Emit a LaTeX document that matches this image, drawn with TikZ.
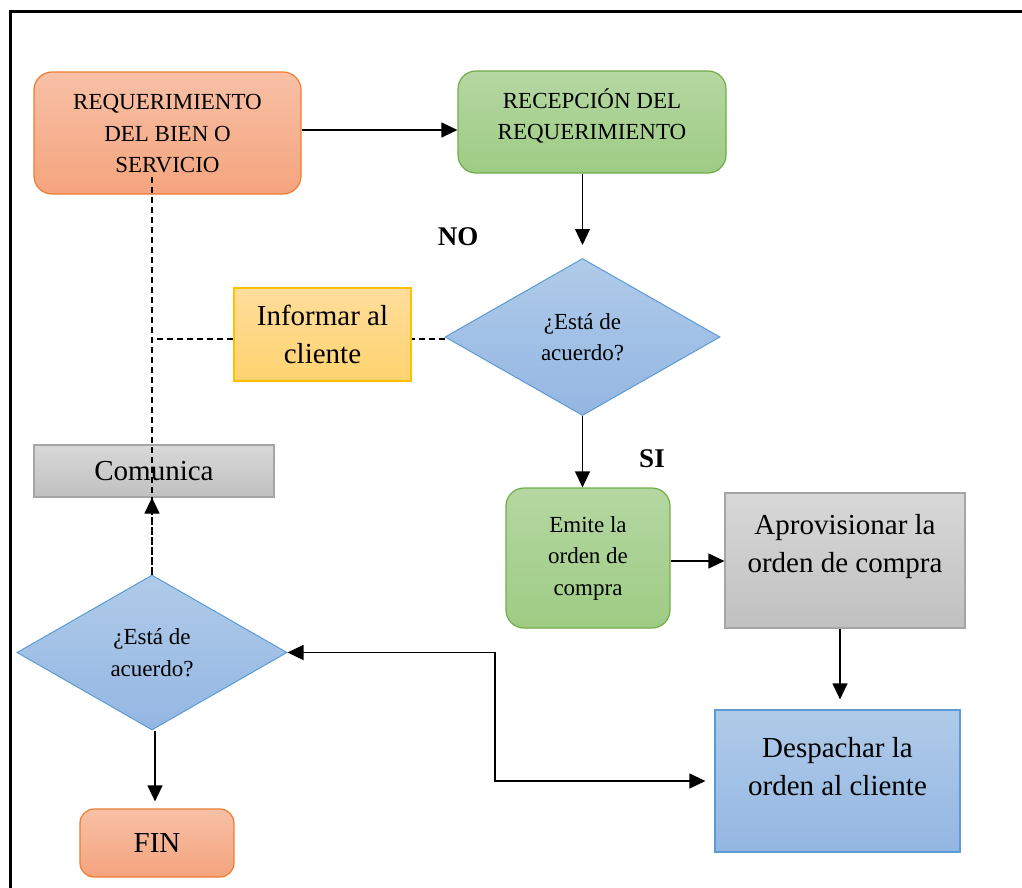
\documentclass[tikz,border=0pt]{standalone}
\usepackage{fontspec}
\setmainfont{Liberation Serif}
\usetikzlibrary{shapes.geometric,arrows.meta,calc}
\definecolor{orT}{HTML}{F8C0A6}\definecolor{orB}{HTML}{F4A47D}\definecolor{orD}{HTML}{ED7D31}
\definecolor{grT}{HTML}{B5D7A2}\definecolor{grB}{HTML}{9ECC84}\definecolor{grD}{HTML}{70AD47}
\definecolor{blT}{HTML}{B0CBE9}\definecolor{blB}{HTML}{93B6E2}\definecolor{blD}{HTML}{5B9BD5}
\definecolor{gyT}{HTML}{D8D8D8}\definecolor{gyB}{HTML}{C0C0C0}\definecolor{gyD}{HTML}{A5A5A5}
\definecolor{ywT}{HTML}{FFDD9C}\definecolor{ywB}{HTML}{FFD36F}\definecolor{ywD}{HTML}{FFC000}
\tikzset{
  box/.style={rectangle,inner sep=0pt,align=center,line width=1.2pt},
  orbox/.style={box,rounded corners=18pt,draw=orD,top color=orT,bottom color=orB},
  grbox/.style={box,rounded corners=18pt,draw=grD,top color=grT,bottom color=grB},
  blbox/.style={box,draw=blD,top color=blT,bottom color=blB},
  gybox/.style={box,draw=gyD,top color=gyT,bottom color=gyB},
  ywbox/.style={box,draw=ywD,top color=ywT,bottom color=ywB},
  dia/.style={diamond,inner sep=0pt,align=center,line width=1pt,draw=blD,top color=blT,bottom color=blB},
  small/.style={font=\fontsize{23}{31.5}\selectfont},
  big/.style={font=\fontsize{29}{38}\selectfont},
  lbl/.style={font=\fontsize{27}{30}\selectfont\bfseries},
  tip/.tip={Triangle[length=16pt,width=15pt]},
  arr/.style={line width=1.2pt,-tip},
  dsh/.style={line width=1.2pt,dash pattern=on 6pt off 4pt},
}
\begin{document}
\begin{tikzpicture}[x=1pt,y=-1pt]
\useasboundingbox (0,0) rectangle (1022,888);
\draw[line width=3pt] (10,888) -- (10,12) -- (1024,12);

\node[orbox,small,minimum width=267pt,minimum height=122pt] (req) at (167.5,133) {};
\node[small,align=center] (reqt) at (167.5,134) {REQUERIMIENTO\\DEL BIEN O\\SERVICIO};
\node[grbox,small,minimum width=268pt,minimum height=102pt] (recep) at (592,122) {};
\node[small,align=center] (recept) at (592,116) {RECEPCIÓN DEL\\REQUERIMIENTO};
\node[dia,small,minimum width=275pt,minimum height=157pt] (d1) at (582.5,337) {¿Está de\\acuerdo?};
\node[lbl] (no) at (458,237) {NO};
\node[ywbox,big,minimum width=177pt,minimum height=93pt] (inf) at (322.5,334.5) {Informar al\\cliente};
\node[lbl] (si) at (652,459) {SI};
\node[grbox,small,minimum width=164pt,minimum height=140pt] (emite) at (588,558) {Emite la\\orden de\\compra};
\node[gybox,big,minimum width=240pt,minimum height=135pt] (aprov) at (845,560.5) {};
\node[big,align=center] (aprovt) at (845,547) {Aprovisionar la\\orden de compra};
\node[blbox,big,minimum width=245pt,minimum height=142pt] (desp) at (837.5,781) {};
\node[big,align=center] (despt) at (837.5,767) {Despachar la\\orden al cliente};
\node[gybox,big,minimum width=240pt,minimum height=52pt] (com) at (154,471) {Comunica};
\node[dia,small,minimum width=270pt,minimum height=155pt] (d2) at (152,652.5) {¿Está de\\acuerdo?};
\node[orbox,big,rounded corners=14pt,minimum width=154pt,minimum height=68pt] (fin) at (157,843) {FIN};

\coordinate (rq) at (152,177);
\coordinate (jn) at (152,339);
\coordinate (bend) at (495,652.5);

\draw[arr] ($(req.east)+(0,-3)$) -- ($(req.east -| recep.west)+(0,-3)$);
\draw[arr,shorten >=13pt] (recep.south -| d1.north) -- (d1.north);
\draw[arr] (d1.south) -- (d1.south |- emite.north);
\draw[arr] ($(emite.east)+(0,3)$) -- ($(emite.east -| aprov.west)+(0,3)$);
\draw[arr,shorten >=10pt] (aprov.south -| 840,0) -- (desp.north -| 840,0);
\draw[line width=1.2pt,tip-tip,shorten >=9pt] (d2.east) -- (bend) |- (desp.west);
\draw[arr,shorten >=7pt] (d2.south -| 155,0) -- (fin.north -| 155,0);
\draw[dsh] ($(d1.west)+(0,2)$) -- ($(d1.west -| inf.east)+(0,2)$);
\draw[dsh] (inf.west |- jn) -- (jn);
\draw[dsh] (rq) -- (d2.north);
\draw[dsh,-tip] (d2.north) -- (com.south -| d2.north);
\end{tikzpicture}
\end{document}
